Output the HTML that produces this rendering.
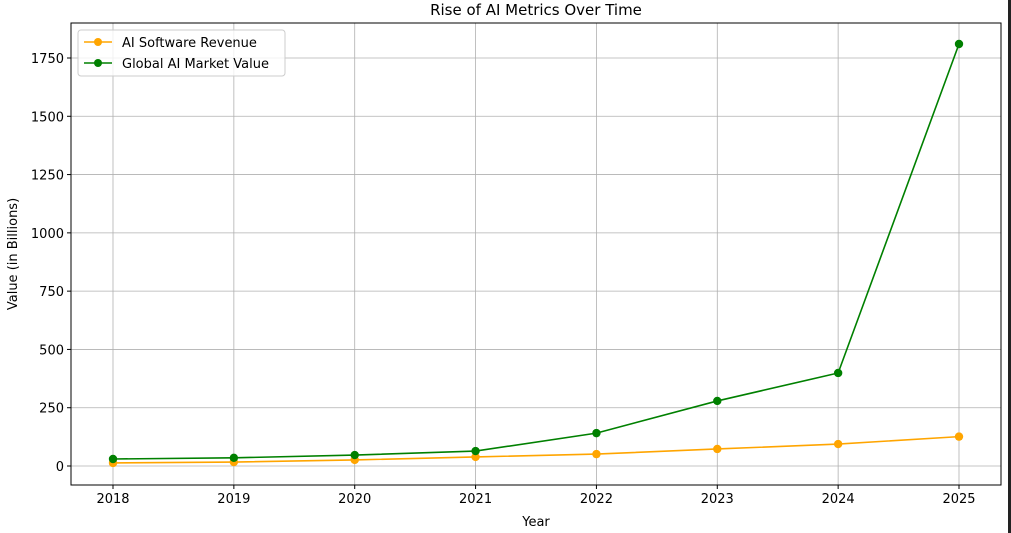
<!DOCTYPE html>
<html><head><meta charset="utf-8"><style>
body{margin:0;background:#fff;}
svg{display:block;font-family:"DejaVu Sans","Liberation Sans",sans-serif;}
</style></head><body>
<svg id="chart" width="1011" height="533">
<rect x="1008" y="0" width="3" height="533" fill="#222"/>
<g id="grid"></g>
<g id="axes"></g>
<g id="series"></g>
<text x="536" y="15" text-anchor="middle" font-size="15">Rise of AI Metrics Over Time</text>
<text x="536" y="526" text-anchor="middle" font-size="13">Year</text>
<text transform="translate(17,254) rotate(-90)" text-anchor="middle" font-size="13">Value (in Billions)</text>
<g>
<rect x="78" y="30" width="207" height="46" fill="#fff" fill-opacity="0.8" stroke="#ccc" rx="3"/>
<line x1="84" y1="42" x2="112" y2="42" stroke="orange" stroke-width="1.5"/><circle cx="98" cy="42" r="4" fill="orange"/>
<text x="122" y="47" font-size="13">AI Software Revenue</text>
<line x1="84" y1="63" x2="112" y2="63" stroke="green" stroke-width="1.5"/><circle cx="98" cy="63" r="4" fill="green"/>
<text x="122" y="68" font-size="13">Global AI Market Value</text>
</g>
</svg>
<script>
const years=[2018,2019,2020,2021,2022,2023,2024,2025];
const softwareRevenue=[13,17,26,39,51,73,94,126];
const marketValue=[30,35,47,64,141,279,399,1810];
const yTicks=[0,250,500,750,1000,1250,1500,1750];
const NS='http://www.w3.org/2000/svg';
const L=71,R=1001,T=23,B=485;
const xs=y=>113+(y-2018)*(959-113)/7;
const ys=v=>466-v*(466-58)/1750;
function mk(tag,attrs,parent){const e=document.createElementNS(NS,tag);for(const k in attrs)e.setAttribute(k,attrs[k]);parent.appendChild(e);return e;}
const grid=document.getElementById('grid'),axes=document.getElementById('axes'),series=document.getElementById('series');
years.forEach(y=>{const x=xs(y);
const g=mk('line',{x1:x,x2:x,y1:T,y2:B,stroke:'#b0b0b0','stroke-width':0.8},grid);


mk('line',{x1:x,x2:x,y1:B,y2:B+4,stroke:'#000'},axes);
const t=mk('text',{x:x,y:B+18,'text-anchor':'middle','font-size':13},axes);t.textContent=y;

});
yTicks.forEach(v=>{const y=ys(v);
const g=mk('line',{x1:L,x2:R,y1:y,y2:y,stroke:'#b0b0b0','stroke-width':0.8},grid);


mk('line',{x1:L-4,x2:L,y1:y,y2:y,stroke:'#000'},axes);
const t=mk('text',{x:L-7,y:y+5,'text-anchor':'end','font-size':13},axes);t.textContent=v;

});
mk('rect',{x:L,y:T,width:R-L,height:B-T,fill:'none',stroke:'#000','stroke-width':1},axes);
function draw(vals,color,name){
const p=mk('polyline',{points:vals.map((v,i)=>xs(years[i])+','+ys(v)).join(' '),fill:'none',stroke:color,'stroke-width':1.6},series);


vals.forEach((v,i)=>{const c=mk('circle',{cx:xs(years[i]),cy:ys(v),r:4.2,fill:color},series);

});}
draw(softwareRevenue,'orange','software-revenue');
draw(marketValue,'green','market-value');
</script>
</body></html>
